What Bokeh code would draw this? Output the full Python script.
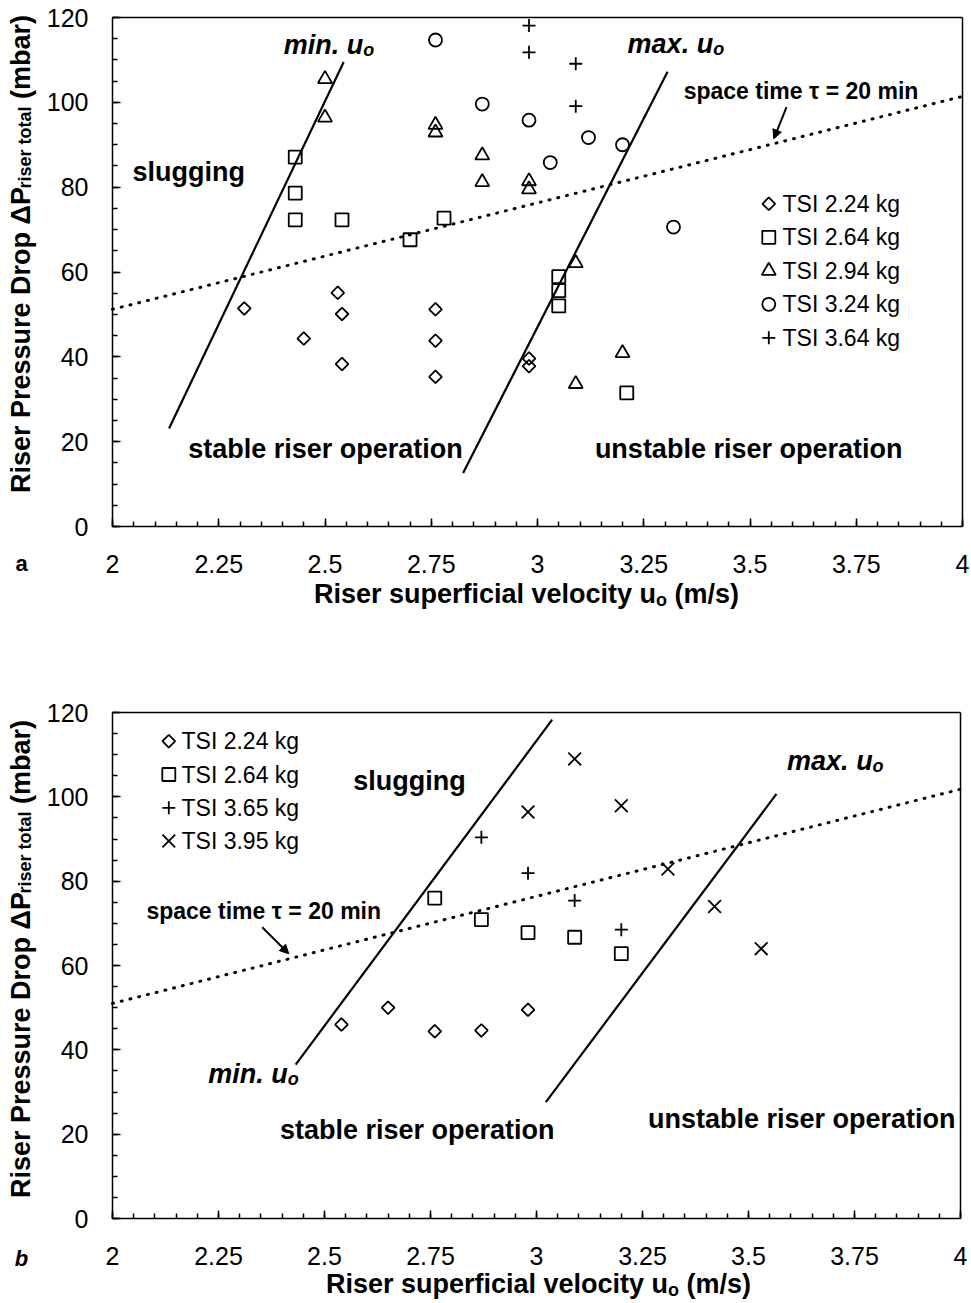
import math
from bokeh.plotting import figure
from bokeh.models import (Range1d, SingleIntervalTicker, FixedTicker, LinearAxis, Label,
                          Arrow, NormalHead)
from bokeh.layouts import column
from bokeh.embed import file_html
from bokeh.resources import INLINE

# ---------------- data ----------------
x_tick_labels = ["2", "2.25", "2.5", "2.75", "3", "3.25", "3.5", "3.75", "4"]
y_tick_labels = ["0", "20", "40", "60", "80", "100", "120"]

# panel a
a_names = ["TSI 2.24 kg", "TSI 2.64 kg", "TSI 2.94 kg", "TSI 3.24 kg", "TSI 3.64 kg"]
a_tsi224_u = [2.31, 2.53, 2.54, 2.45, 2.54, 2.76, 2.76, 2.76, 2.98, 2.98]
a_tsi224_dp = [51.4, 55.1, 50.1, 44.3, 38.3, 51.2, 43.8, 35.3, 39.6, 37.8]
a_tsi264_u = [2.43, 2.43, 2.43, 2.54, 2.70, 2.78, 3.05, 3.05, 3.05, 3.21]
a_tsi264_dp = [87.1, 78.6, 72.3, 72.3, 67.6, 72.7, 58.9, 55.6, 52.0, 31.5]
a_tsi294_u = [2.50, 2.50, 2.76, 2.76, 2.87, 2.87, 2.98, 2.98, 3.09, 3.09, 3.20]
a_tsi294_dp = [105.5, 96.4, 94.7, 92.9, 87.5, 81.2, 81.4, 79.5, 62.1, 33.6, 40.9]
a_tsi324_u = [2.76, 2.87, 2.98, 3.03, 3.12, 3.20, 3.32]
a_tsi324_dp = [114.7, 99.6, 95.8, 85.8, 91.7, 90.0, 70.6]
a_tsi364_u = [2.98, 2.98, 3.09, 3.09]
a_tsi364_dp = [118.1, 111.8, 109.1, 99.1]
a_min_u = [2.133, 2.544]
a_min_dp = [23.1, 109.5]
a_max_u = [2.825, 3.306]
a_max_dp = [12.6, 107.2]
tau_u = [2.0, 4.0]
a_tau_dp = [51.2, 101.4]

# panel b
b_names = ["TSI 2.24 kg", "TSI 2.64 kg", "TSI 3.65 kg", "TSI 3.95 kg"]
b_tsi224_u = [2.54, 2.65, 2.76, 2.87, 2.98]
b_tsi224_dp = [46.0, 50.0, 44.4, 44.6, 49.5]
b_tsi264_u = [2.76, 2.87, 2.98, 3.09, 3.20]
b_tsi264_dp = [76.0, 70.9, 67.8, 66.7, 62.8]
b_tsi365_u = [2.87, 2.98, 3.09, 3.20]
b_tsi365_dp = [90.4, 81.9, 75.4, 68.5]
b_tsi395_u = [2.98, 3.09, 3.20, 3.31, 3.42, 3.53]
b_tsi395_dp = [96.4, 109.0, 97.9, 82.9, 74.0, 64.0]
b_min_u = [2.432, 3.037]
b_min_dp = [36.5, 118.3]
b_max_u = [3.022, 3.566]
b_max_dp = [27.6, 100.7]
b_tau_dp = [51.0, 101.8]

# ---------------- styling ----------------
FONT = "Liberation Sans"
X_MIN, X_MAX, Y_MIN, Y_MAX = 2.0, 4.0, 0.0, 120.0
PAGE_W = 971
LIFT = 8  # px: text baseline correction

MARKERS = {
    "diamond": dict(marker="square", angle=math.pi / 4, size=9),
    "square": dict(marker="square", size=13),
    "triangle": dict(marker="triangle", size=14),
    "circle": dict(marker="circle", size=13),
    "cross": dict(marker="cross", size=13),
    "x": dict(marker="x", size=18),
}

W_BOLD = {' ': 278, '(': 333, ')': 333, '.': 278, '/': 278, '=': 584,
          'a': 556, 'b': 611, 'c': 556, 'd': 611, 'e': 556, 'f': 333, 'g': 611,
          'h': 611, 'i': 278, 'j': 278, 'k': 556, 'l': 278, 'm': 889, 'n': 611,
          'o': 611, 'p': 611, 'q': 611, 'r': 389, 's': 556, 't': 333, 'u': 611,
          'v': 556, 'w': 778, 'x': 556, 'y': 556, 'z': 500,
          'D': 722, 'P': 667, 'R': 722, 'Δ': 668, 'τ': 500}


def tw(s, size):
    return sum(W_BOLD.get(c, 556) for c in s) * size / 1000.0


def label(p, x, y, text, size, style="bold", align="left", baseline="alphabetic", angle=0.0):
    p.add_layout(Label(x=x, y=y, text=text, text_font=FONT, text_font_size=f"{size}px",
                       text_font_style=style, text_color="black", text_align=align,
                       text_baseline=baseline, angle=angle))


def style_axis(ax):
    ax.axis_line_color = "black"
    ax.axis_line_width = 1.5
    ax.major_tick_line_color = "black"
    ax.major_tick_line_width = 1.5
    ax.minor_tick_line_color = "black"
    ax.minor_tick_line_width = 1.5
    ax.major_tick_in = 8
    ax.major_tick_out = 0
    ax.minor_tick_in = 5
    ax.minor_tick_out = 0
    ax.major_label_text_font = FONT
    ax.major_label_text_font_size = "25px"
    ax.major_label_text_color = "black"


def make_panel(box, H, series, min_line, max_line, tau_dp, notes, arrow_px, legend_geom,
               xlab_geom, ylab_geom, tag, tag_style, tag_py):
    # box = inner plotting box in canvas pixels: left, right, top, bottom
    L, R, T, B = box
    sx = (X_MAX - X_MIN) / (R - L)
    sy = (Y_MAX - Y_MIN) / (B - T)

    def X(px):
        return X_MIN + (px - L) * sx

    def Y(py):
        return Y_MIN + (B - py) * sy

    p = figure(frame_width=PAGE_W, frame_height=H,
               x_range=Range1d(X(0), X(PAGE_W)), y_range=Range1d(Y(H), Y(0)),
               x_axis_location=None, y_axis_location=None,
               min_border=0, output_backend="svg", toolbar_location=None,
               background_fill_color="white", border_fill_color="white")
    p.grid.visible = False
    p.outline_line_color = None

    # axes drawn at the box edges (library axes fixed at data locations)
    xa = LinearAxis(fixed_location=Y_MIN, bounds=(X_MIN, X_MAX),
                    ticker=SingleIntervalTicker(interval=0.25, num_minor_ticks=5),
                    major_label_overrides={float(t): t for t in x_tick_labels})
    style_axis(xa)
    xa.major_label_standoff = 28
    ya = LinearAxis(fixed_location=X_MIN, bounds=(Y_MIN, Y_MAX),
                    ticker=SingleIntervalTicker(interval=20, num_minor_ticks=4),
                    major_label_overrides={float(t): t for t in y_tick_labels})
    style_axis(ya)
    ya.major_label_standoff = 24
    top = LinearAxis(fixed_location=Y_MAX, bounds=(X_MIN, X_MAX), ticker=FixedTicker(ticks=[]))
    right = LinearAxis(fixed_location=X_MAX, bounds=(Y_MIN, Y_MAX), ticker=FixedTicker(ticks=[]))
    for ax in (top, right):
        style_axis(ax)
        ax.major_tick_in = 0
        ax.minor_tick_in = 0
    p.add_layout(xa, "below")
    p.add_layout(ya, "left")
    p.add_layout(top, "above")
    p.add_layout(right, "right")

    # boundary lines
    p.line(min_line[0], min_line[1], line_color="black", line_width=2.2)
    p.line(max_line[0], max_line[1], line_color="black", line_width=2.2)
    p.line(tau_u, tau_dp, line_color="black", line_width=3, line_dash="1 8", line_cap="round")

    # data series
    for (u, dp, mk, name) in series:
        p.scatter(u, dp, fill_color=None, line_color="black", line_width=1.8, **MARKERS[mk])

    # legend (manual, to match the reference glyph sizes)
    mx, my0, dy, tx = legend_geom
    for i, (u, dp, mk, name) in enumerate(series):
        p.scatter([X(mx)], [Y(my0 + i * dy)], fill_color=None, line_color="black",
                  line_width=1.8, **MARKERS[mk])
        label(p, X(tx), Y(my0 + i * dy), name, 23, style="normal", baseline="middle")

    # annotations inside the box (data coordinates of the text baseline start)
    for (x, y, text, size, style, sub) in notes:
        yy = y + LIFT * sy
        label(p, x, yy, text, size, style=style)
        if sub:
            label(p, x + tw(text, size) * sx, yy - 5 * sy, sub, 18, style=style)

    # arrow
    (ax0, ay0, ax1, ay1) = arrow_px
    p.add_layout(Arrow(end=NormalHead(size=9, fill_color="black", line_color="black"),
                       x_start=X(ax0), y_start=Y(ay0), x_end=X(ax1), y_end=Y(ay1),
                       line_color="black", line_width=2))

    # x axis title: "Riser superficial velocity u" + sub "o" + "(m/s)"
    xc, xb = xlab_geom
    xb -= LIFT
    m1, s1, r1 = "Riser superficial velocity u", "o", "(m/s)"
    w1, w2, wsp, w3 = tw(m1, 27), tw(s1, 18), tw(" ", 27), tw(r1, 27)
    x0 = xc - (w1 + w2 + wsp + w3) / 2
    label(p, X(x0), Y(xb), m1, 27)
    label(p, X(x0 + w1), Y(xb + 6), s1, 18)
    label(p, X(x0 + w1 + w2 + wsp), Y(xb), r1, 27)

    # y axis title (rotated): "Riser Pressure Drop ΔP" + sub "riser total" + "(mbar)"
    yc, yb = ylab_geom
    m1, s1, r1 = "Riser Pressure Drop ΔP", "riser total", "(mbar)"
    w1, w2, wsp, w3 = tw(m1, 27), tw(s1, 18), tw(" ", 27), tw(r1, 27)
    y0 = yc + (w1 + w2 + wsp + w3) / 2
    label(p, X(yb), Y(y0), m1, 27, angle=math.pi / 2)
    label(p, X(yb + 4), Y(y0 - w1), s1, 18, angle=math.pi / 2)
    label(p, X(yb), Y(y0 - w1 - w2 - wsp), r1, 27, angle=math.pi / 2)

    # panel tag
    label(p, X(21), Y(tag_py), tag, 22, style=tag_style, align="center", baseline="middle")
    return p


# ---------------- panel a ----------------
pa = make_panel(
    box=(112, 962, 17, 526), H=650,
    series=[(a_tsi224_u, a_tsi224_dp, "diamond", a_names[0]),
            (a_tsi264_u, a_tsi264_dp, "square", a_names[1]),
            (a_tsi294_u, a_tsi294_dp, "triangle", a_names[2]),
            (a_tsi324_u, a_tsi324_dp, "circle", a_names[3]),
            (a_tsi364_u, a_tsi364_dp, "cross", a_names[4])],
    min_line=(a_min_u, a_min_dp), max_line=(a_max_u, a_max_dp), tau_dp=a_tau_dp,
    notes=[(2.047, 81.6, "slugging", 27, "bold", None),
           (2.403, 111.7, "min. u", 27, "bold italic", "o"),
           (3.212, 111.8, "max. u", 27, "bold italic", "o"),
           (3.344, 100.8, "space time τ = 20 min", 23, "bold", None),
           (2.178, 16.3, "stable riser operation", 27, "bold", None),
           (3.135, 16.3, "unstable riser operation", 27, "bold", None)],
    arrow_px=(786, 106.7, 773.3, 138.3),
    legend_geom=(768.3, 203.3, 33.5, 782.0),
    xlab_geom=(526, 601), ylab_geom=(253.5, 20),
    tag="a", tag_style="bold", tag_py=563)

# ---------------- panel b ----------------
pb = make_panel(
    box=(112, 960, 62, 568), H=653,
    series=[(b_tsi224_u, b_tsi224_dp, "diamond", b_names[0]),
            (b_tsi264_u, b_tsi264_dp, "square", b_names[1]),
            (b_tsi365_u, b_tsi365_dp, "cross", b_names[2]),
            (b_tsi395_u, b_tsi395_dp, "x", b_names[3])],
    min_line=(b_min_u, b_min_dp), max_line=(b_max_u, b_max_dp), tau_dp=b_tau_dp,
    notes=[(2.568, 101.9, "slugging", 27, "bold", None),
           (2.226, 32.3, "min. u", 27, "bold italic", "o"),
           (3.591, 106.6, "max. u", 27, "bold italic", "o"),
           (2.080, 71.1, "space time τ = 20 min", 23, "bold", None),
           (2.395, 19.1, "stable riser operation", 27, "bold", None),
           (3.263, 21.6, "unstable riser operation", 27, "bold", None)],
    arrow_px=(261.7, 276.7, 288.3, 303.3),
    legend_geom=(168.3, 90.7, 33.3, 181.0),
    xlab_geom=(538, 641), ylab_geom=(308.5, 20),
    tag="b", tag_style="bold italic", tag_py=608)

layout = column(pa, pb, spacing=0)
open("out.html", "w").write(file_html(layout, INLINE))
